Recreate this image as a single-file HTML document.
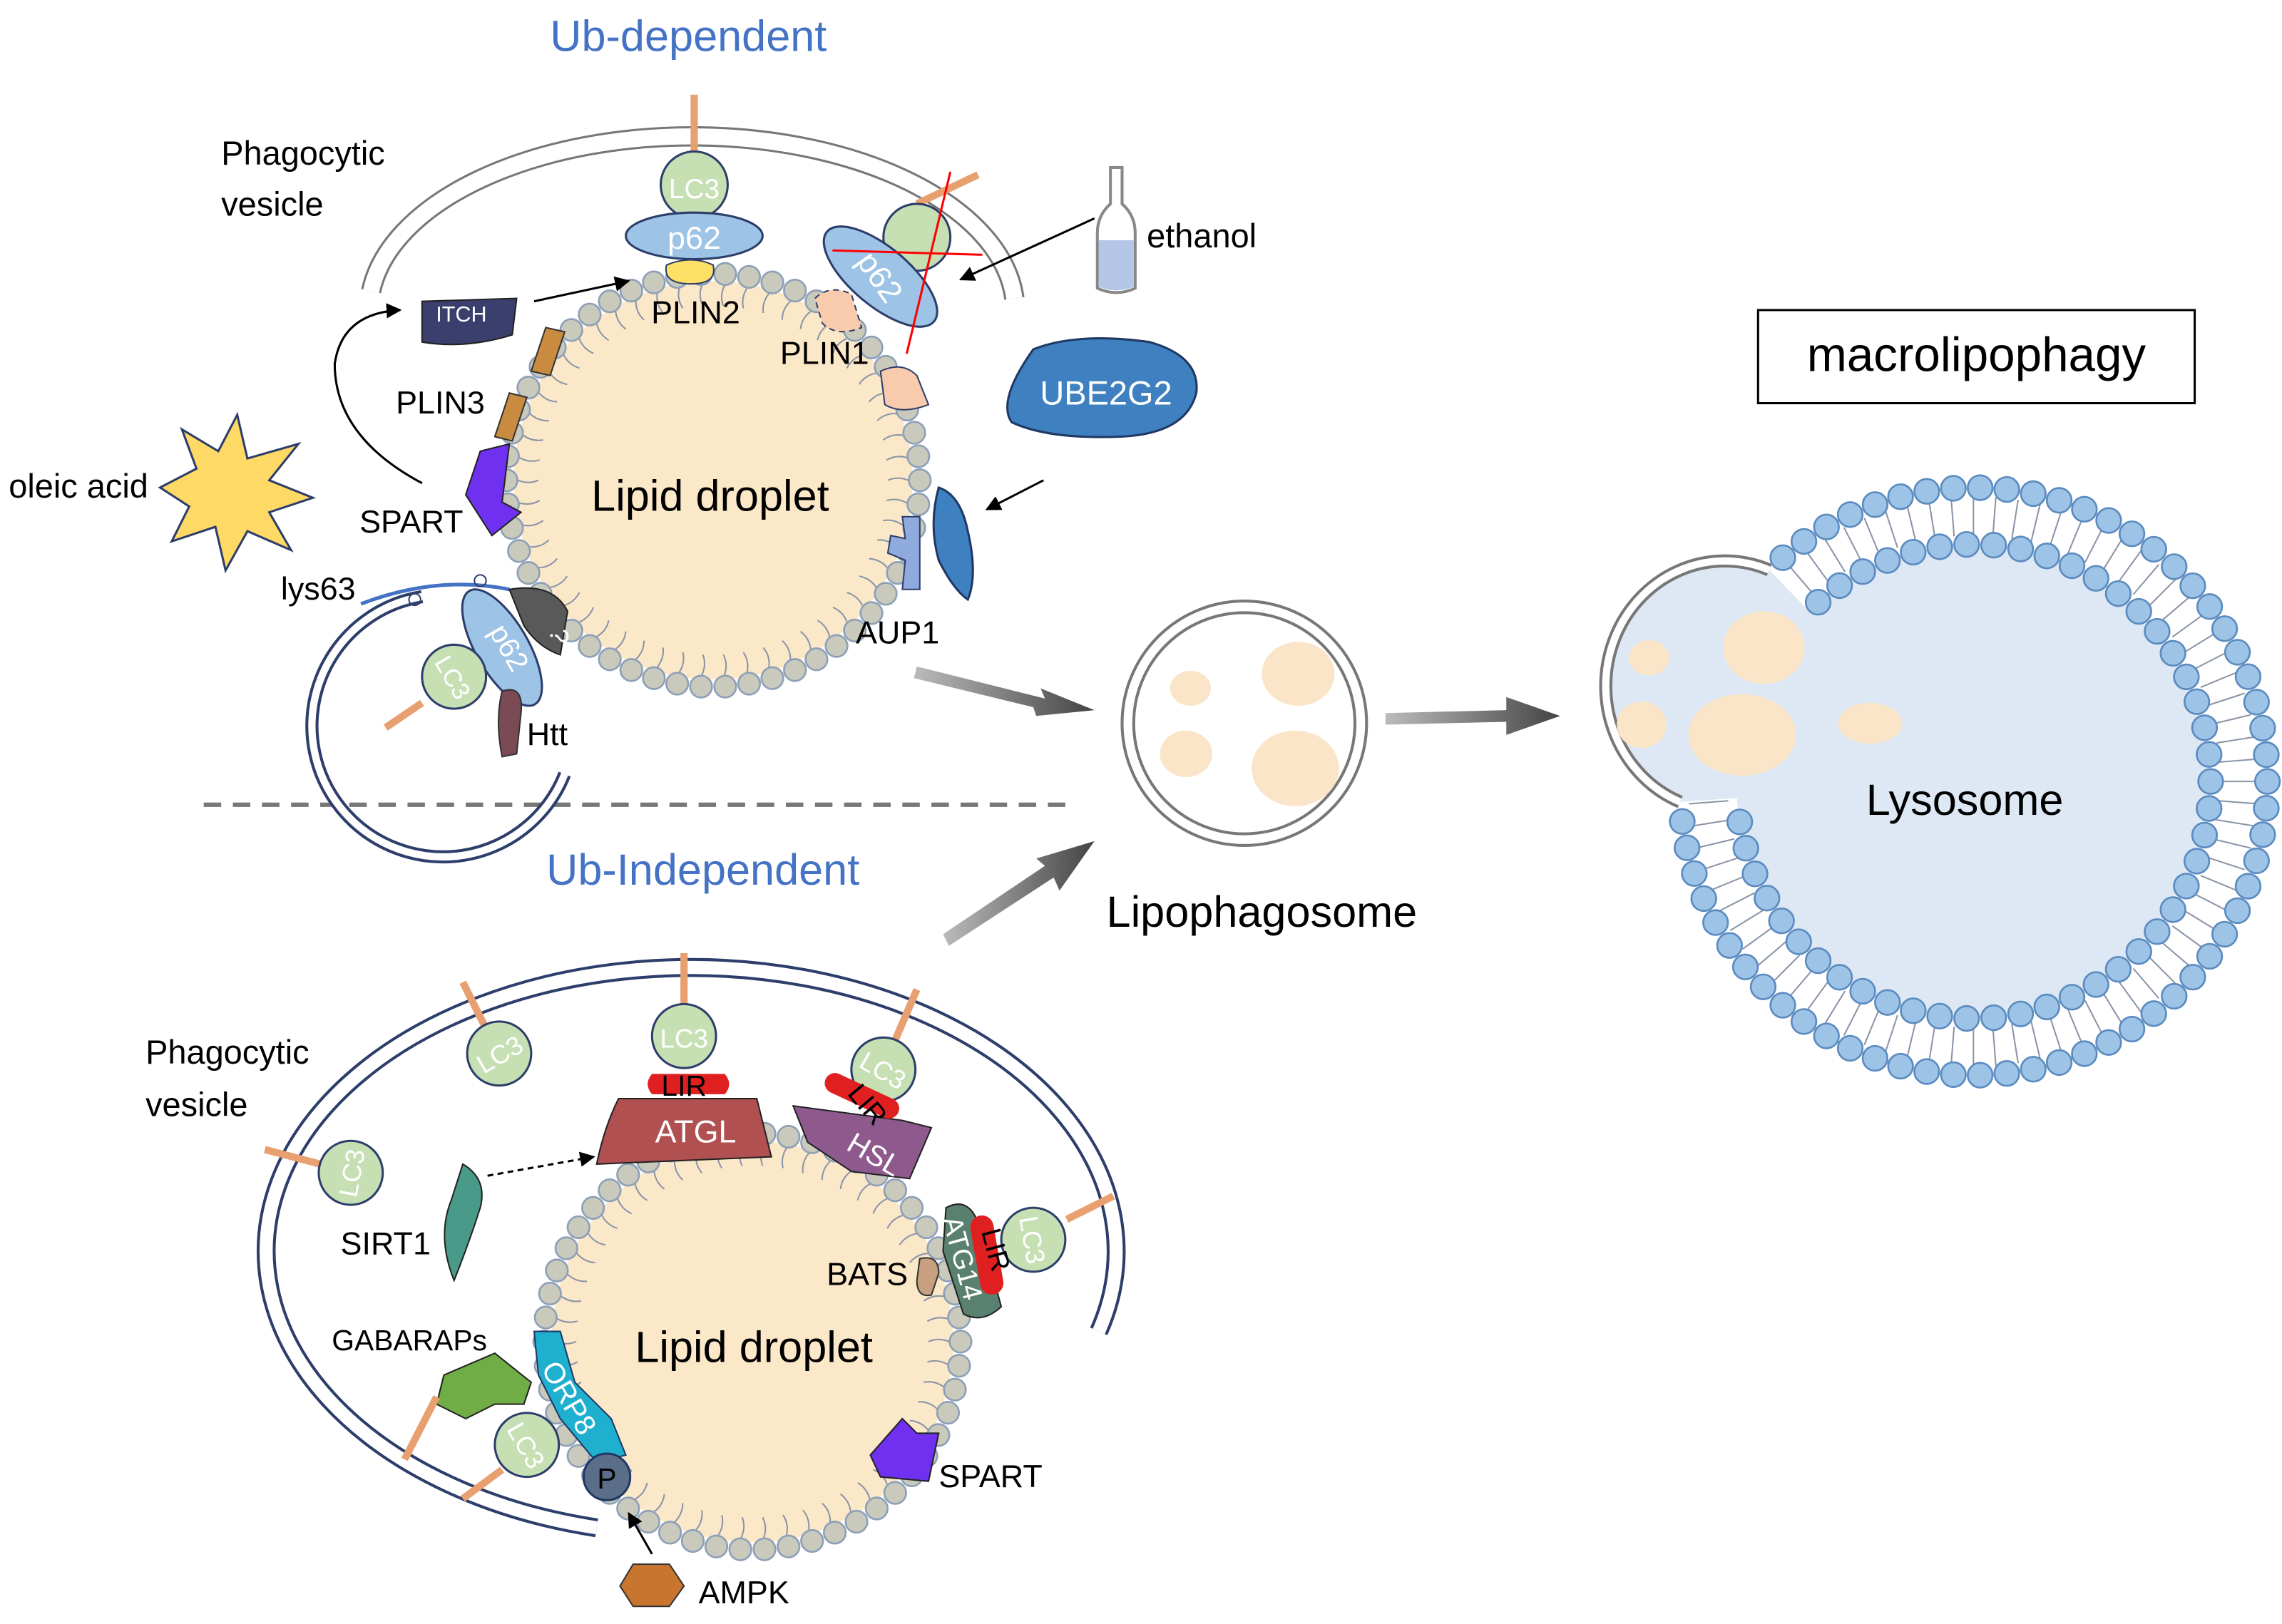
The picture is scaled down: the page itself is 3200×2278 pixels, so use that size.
<!DOCTYPE html>
<html><head><meta charset="utf-8"><style>
html,body{margin:0;padding:0;background:#fff}
svg{display:block}
text{font-family:"Liberation Sans",sans-serif}
</style></head><body>
<svg id="s" width="3200" height="2278" viewBox="0 0 1568 1116" xmlns="http://www.w3.org/2000/svg">
<defs>
<marker id="ah" viewBox="0 0 10 10" refX="9" refY="5" markerWidth="7" markerHeight="7" orient="auto"><path d="M0,0L10,5L0,10z" fill="#000"/></marker>
<linearGradient id="ga" x1="0" y1="0" x2="1" y2="0"><stop offset="0" stop-color="#bbb"/><stop offset="1" stop-color="#444"/></linearGradient>
</defs>
<g id="bg"></g>
<text x="473" y="35" font-size="30" fill="#4472c4" text-anchor="middle">Ub-dependent</text>
<text x="483" y="608" font-size="30" fill="#4472c4" text-anchor="middle">Ub-Independent</text>
<line x1="140" y1="553" x2="740" y2="553" stroke="#777" stroke-width="3" stroke-dasharray="12,8"/>
<path d="M255,200 A222,120 0 0 1 697,205" fill="none" stroke="#777" stroke-width="14"/>
<path d="M255,200 A222,120 0 0 1 697,205" fill="none" stroke="#fff" stroke-width="11"/>
<text x="152" y="113" font-size="23">Phagocytic</text>
<text x="152" y="148" font-size="23">vesicle</text>
<path d="M410,1050 A292,195 0 1 1 755,915" fill="none" stroke="#2d3e6b" stroke-width="13"/>
<path d="M410,1050 A292,195 0 1 1 755,915" fill="none" stroke="#fff" stroke-width="9"/>
<text x="100" y="731" font-size="23">Phagocytic</text>
<text x="100" y="767" font-size="23">vesicle</text>
<path d="M388,532 A90,90 0 1 1 290,410" fill="none" stroke="#2d3e6b" stroke-width="9"/>
<path d="M388,532 A90,90 0 1 1 290,410" fill="none" stroke="#fff" stroke-width="5"/>
<path d="M248,415 Q300,395 350,405" fill="none" stroke="#4472c4" stroke-width="2.5"/>
<g id="fg"></g>
<text x="488" y="351" font-size="30" text-anchor="middle">Lipid droplet</text>
<text x="518" y="936" font-size="30" text-anchor="middle">Lipid droplet</text>
<line x1="477" y1="65" x2="477" y2="110" stroke="#e8a070" stroke-width="5"/>
<circle cx="477" cy="127" r="23" fill="#c6e0b4" stroke="#2d3e6b" stroke-width="1.5"/>
<text x="477" y="136" font-size="19" fill="#fff" text-anchor="middle">LC3</text>
<ellipse cx="477" cy="162" rx="47" ry="16" fill="#9dc3e6" stroke="#2d3e6b" stroke-width="1.5"/>
<text x="477" y="171" font-size="22" fill="#fff" text-anchor="middle">p62</text>
<path d="M458,182 Q475,175 490,182 Q493,195 475,195 Q455,195 458,182z" fill="#ffe066" stroke="#2d3e6b"/>
<text x="478" y="222" font-size="22" text-anchor="middle">PLIN2</text>
<path d="M290,207 L355,205 L352,230 Q320,240 290,235z" fill="#3b3f6e" stroke="#222"/>
<text x="317" y="221" font-size="15" fill="#fff" text-anchor="middle">ITCH</text>
<line x1="367" y1="207" x2="432" y2="193" stroke="#000" stroke-width="1.5" marker-end="url(#ah)"/>
<path d="M365,255 L375,225 L388,228 L378,258z" fill="#c98b40" stroke="#333"/>
<path d="M340,300 L350,270 L362,273 L352,303z" fill="#c98b40" stroke="#333"/>
<text x="272" y="284" font-size="22">PLIN3</text>
<path d="M330,310 L350,305 L345,345 L358,352 L338,368 L320,340z" fill="#7030f0" stroke="#222"/>
<text x="247" y="366" font-size="22">SPART</text>
<path d="M290,332 Q230,300 230,250 Q235,215 275,213" fill="none" stroke="#000" stroke-width="1.5" marker-end="url(#ah)"/>
<polygon points="163,285 170,315 205,305 185,330 215,342 185,352 200,378 170,365 155,392 148,362 118,372 130,348 110,335 135,322 125,295 150,310" fill="#ffd966" stroke="#2d3e6b" stroke-width="1.5"/>
<text x="6" y="342" font-size="23">oleic acid</text>
<line x1="630" y1="140" x2="672" y2="120" stroke="#e8a070" stroke-width="5"/>
<circle cx="630" cy="163" r="23" fill="#c6e0b4" stroke="#2d3e6b" stroke-width="1.5"/>
<ellipse cx="605" cy="190" rx="48" ry="20" transform="rotate(40 605 190)" fill="#9dc3e6" stroke="#2d3e6b" stroke-width="1.5"/>
<text x="605" y="198" font-size="22" fill="#fff" text-anchor="middle" transform="rotate(55 605 190)">p62</text>
<line x1="572" y1="172" x2="675" y2="175" stroke="#f00" stroke-width="1.5"/>
<line x1="653" y1="118" x2="623" y2="243" stroke="#f00" stroke-width="1.5"/>
<path d="M560,205 Q570,195 585,202 L592,225 Q575,232 565,222z" fill="#f8cbad" stroke="#2d3e6b" stroke-dasharray="4,3"/>
<text x="536" y="250" font-size="22">PLIN1</text>
<path d="M605,255 Q620,248 630,258 L638,278 Q620,285 608,278z" fill="#f8cbad" stroke="#2d3e6b"/>
<line x1="752" y1="150" x2="660" y2="192" stroke="#000" stroke-width="1.5" marker-end="url(#ah)"/>
<path d="M763,115 L771,115 L771,140 Q780,148 780,160 L780,198 Q767,204 754,198 L754,160 Q754,148 763,140z" fill="#fff" stroke="#888" stroke-width="2"/>
<path d="M755,165 L779,165 L779,197 Q767,202 755,197z" fill="#b4c7e7"/>
<text x="788" y="170" font-size="23">ethanol</text>
<path d="M710,240 Q740,228 790,235 Q825,245 822,270 Q815,298 770,300 Q720,302 695,290 Q685,275 710,240z" fill="#3f80c0" stroke="#1f3864" stroke-width="1.5"/>
<text x="760" y="278" font-size="23" fill="#fff" text-anchor="middle">UBE2G2</text>
<line x1="717" y1="330" x2="678" y2="350" stroke="#000" stroke-width="1.5" marker-end="url(#ah)"/>
<path d="M645,335 Q660,340 665,365 Q672,395 665,412 Q655,405 645,385 Q638,360 645,335z" fill="#3f80c0" stroke="#1f3864" stroke-width="1.5"/>
<path d="M620,355 L632,355 L632,405 L620,405 L622,385 L610,380 L612,368 L622,370z" fill="#8faadc" stroke="#2d3e6b"/>
<text x="588" y="442" font-size="22">AUP1</text>
<text x="193" y="412" font-size="22">lys63</text>
<circle cx="285" cy="412" r="4" fill="none" stroke="#2d3e6b"/>
<circle cx="330" cy="399" r="4" fill="none" stroke="#2d3e6b"/>
<path d="M350,405 Q380,400 390,420 L385,450 Q370,445 360,430z" fill="#595959" stroke="#222"/>
<text x="378" y="432" font-size="18" fill="#fff" transform="rotate(90 378 432)">?</text>
<ellipse cx="345" cy="445" rx="45" ry="18" transform="rotate(60 345 445)" fill="#9dc3e6" stroke="#2d3e6b" stroke-width="1.5"/>
<text x="350" y="452" font-size="20" fill="#fff" text-anchor="middle" transform="rotate(60 350 445)">p62</text>
<line x1="290" y1="483" x2="265" y2="500" stroke="#e8a070" stroke-width="5"/>
<circle cx="312" cy="465" r="22" fill="#c6e0b4" stroke="#2d3e6b" stroke-width="1.5"/>
<text x="312" y="472" font-size="17" fill="#fff" text-anchor="middle" transform="rotate(60 312 465)">LC3</text>
<path d="M345,475 Q360,470 358,490 L355,518 L345,520 Q340,495 345,475z" fill="#7a4a55" stroke="#333"/>
<text x="362" y="512" font-size="22">Htt</text>
<line x1="470" y1="655" x2="470" y2="695" stroke="#e8a070" stroke-width="5"/>
<circle cx="470" cy="712" r="22" fill="#c6e0b4" stroke="#2d3e6b" stroke-width="1.5"/>
<text x="470" y="720" font-size="18" fill="#fff" text-anchor="middle">LC3</text>
<line x1="318" y1="675" x2="333" y2="705" stroke="#e8a070" stroke-width="5"/>
<circle cx="343" cy="724" r="22" fill="#c6e0b4" stroke="#2d3e6b" stroke-width="1.5"/>
<text x="343" y="731" font-size="18" fill="#fff" text-anchor="middle" transform="rotate(-30 343 724)">LC3</text>
<line x1="182" y1="790" x2="220" y2="800" stroke="#e8a070" stroke-width="5"/>
<circle cx="241" cy="806" r="22" fill="#c6e0b4" stroke="#2d3e6b" stroke-width="1.5"/>
<text x="241" y="813" font-size="18" fill="#fff" text-anchor="middle" transform="rotate(-80 241 806)">LC3</text>
<line x1="630" y1="680" x2="615" y2="715" stroke="#e8a070" stroke-width="5"/>
<circle cx="607" cy="735" r="22" fill="#c6e0b4" stroke="#2d3e6b" stroke-width="1.5"/>
<text x="607" y="742" font-size="18" fill="#fff" text-anchor="middle" transform="rotate(30 607 735)">LC3</text>
<path d="M448,738 L498,738 Q504,745 498,752 L448,752 Q442,745 448,738z" fill="#e02020"/>
<text x="470" y="753" font-size="20" text-anchor="middle">LIR</text>
<path d="M425,755 L520,755 L530,795 L410,800 Q415,775 425,755z" fill="#b05050" stroke="#222"/>
<text x="478" y="785" font-size="22" fill="#fff" text-anchor="middle">ATGL</text>
<path d="M545,760 L620,770 L640,775 L625,810 L585,805 L555,785z" fill="#8e5a8e" stroke="#222"/>
<rect x="565" y="745" width="55" height="14" rx="7" fill="#e02020" transform="rotate(25 590 752)"/>
<text x="595" y="765" font-size="19" text-anchor="middle" transform="rotate(50 595 760)">LIR</text>
<text x="600" y="800" font-size="20" fill="#fff" text-anchor="middle" transform="rotate(30 600 795)">HSL</text>
<path d="M318,800 Q335,810 330,830 Q322,855 312,880 Q300,850 310,825z" fill="#4a9a8a" stroke="#222"/>
<text x="234" y="862" font-size="22">SIRT1</text>
<line x1="335" y1="808" x2="408" y2="795" stroke="#000" stroke-width="1.5" stroke-dasharray="4,3" marker-end="url(#ah)"/>
<line x1="765" y1="822" x2="733" y2="838" stroke="#e8a070" stroke-width="5"/>
<circle cx="710" cy="852" r="22" fill="#c6e0b4" stroke="#2d3e6b" stroke-width="1.5"/>
<text x="710" y="859" font-size="18" fill="#fff" text-anchor="middle" transform="rotate(80 710 852)">LC3</text>
<path d="M650,830 Q665,822 672,840 L688,898 Q675,910 662,903 L648,860z" fill="#5a8070" stroke="#222"/>
<rect x="670" y="835" width="16" height="55" rx="8" fill="#e02020" transform="rotate(-10 678 862)"/>
<text x="680" y="862" font-size="19" text-anchor="middle" transform="rotate(75 680 860)">LIR</text>
<text x="660" y="870" font-size="19" fill="#fff" text-anchor="middle" transform="rotate(75 660 865)">ATG14</text>
<path d="M632,865 Q645,862 645,875 L640,890 Q630,892 630,880z" fill="#c8a080" stroke="#333"/>
<text x="568" y="883" font-size="22">BATS</text>
<path d="M305,945 L340,930 L365,950 L360,965 L340,965 L320,975 L300,965z" fill="#70ad47" stroke="#222"/>
<text x="228" y="928" font-size="20">GABARAPs</text>
<path d="M367,915 L385,915 L395,950 L420,975 L430,1000 L410,1005 L385,975 L370,945z" fill="#1fb0d0" stroke="#1f3864"/>
<text x="392" y="968" font-size="20" fill="#fff" text-anchor="middle" transform="rotate(60 392 960)">ORP8</text>
<line x1="300" y1="960" x2="278" y2="1003" stroke="#e8a070" stroke-width="5"/>
<line x1="345" y1="1010" x2="318" y2="1030" stroke="#e8a070" stroke-width="5"/>
<circle cx="362" cy="993" r="22" fill="#c6e0b4" stroke="#2d3e6b" stroke-width="1.5"/>
<text x="362" y="1000" font-size="18" fill="#fff" text-anchor="middle" transform="rotate(60 362 993)">LC3</text>
<circle cx="417" cy="1015" r="16" fill="#5a6e8a" stroke="#1f3864" stroke-width="1.5"/>
<text x="417" y="1023" font-size="20" text-anchor="middle">P</text>
<line x1="448" y1="1068" x2="432" y2="1040" stroke="#000" stroke-width="1.5" marker-end="url(#ah)"/>
<polygon points="435,1075 460,1075 470,1090 460,1104 435,1104 426,1090" fill="#c87530" stroke="#333"/>
<text x="480" y="1102" font-size="22">AMPK</text>
<path d="M598,1000 L620,975 L630,985 L645,985 L638,1018 L605,1015z" fill="#7030f0" stroke="#222"/>
<text x="645" y="1022" font-size="22">SPART</text>
<polygon points="630,458 718,480 715,473 752,488 712,492 710,486 628,466" fill="url(#ga)"/>
<polygon points="648,642 718,595 712,590 752,578 728,612 724,603 652,650" fill="url(#ga)"/>
<polygon points="952,490 1035,488 1035,479 1072,492 1035,505 1035,496 952,498" fill="url(#ga)"/>
<circle cx="855" cy="497" r="84" fill="#fff" stroke="#777" stroke-width="2"/>
<circle cx="855" cy="497" r="76" fill="#fff" stroke="#777" stroke-width="2"/>
<ellipse cx="892" cy="463" rx="25" ry="22" fill="#fbe5c8"/>
<ellipse cx="818" cy="473" rx="14" ry="12" fill="#fbe5c8"/>
<ellipse cx="815" cy="518" rx="18" ry="16" fill="#fbe5c8"/>
<ellipse cx="890" cy="528" rx="30" ry="26" fill="#fbe5c8"/>
<text x="867" y="637" font-size="30" text-anchor="middle">Lipophagosome</text>
<g id="lyso"></g>
<text x="1350" y="560" font-size="30" text-anchor="middle">Lysosome</text>
<rect x="1208" y="213" width="300" height="64" fill="#fff" stroke="#000" stroke-width="1.5"/>
<text x="1358" y="255" font-size="33" text-anchor="middle">macrolipophagy</text>
</svg>
<script>
var NS="http://www.w3.org/2000/svg";
function el(p,t,a){var e=document.createElementNS(NS,t);for(var k in a)e.setAttribute(k,a[k]);p.appendChild(e);return e;}
var bg=document.getElementById("bg");
function droplet(cx,cy,r,n){
 el(bg,"circle",{cx:cx,cy:cy,r:r-5,fill:"#fbe8c8"});
 for(var i=0;i<n;i++){var a=i/n*2*Math.PI,c=Math.cos(a),s=Math.sin(a);
  var x1=cx+c*(r-8),y1=cy+s*(r-8),x2=cx+c*(r-22),y2=cy+s*(r-22);
  var mx=(x1+x2)/2+s*3,my=(y1+y2)/2-c*3;
  el(bg,"path",{d:"M"+x1.toFixed(1)+","+y1.toFixed(1)+" Q"+mx.toFixed(1)+","+my.toFixed(1)+" "+x2.toFixed(1)+","+y2.toFixed(1),stroke:"#8a94a8","stroke-width":1,fill:"none"});
  el(bg,"circle",{cx:(cx+c*r).toFixed(1),cy:(cy+s*r).toFixed(1),r:7.5,fill:"#c9cabc",stroke:"#8ea0b8","stroke-width":1.3});
 }
}
droplet(490,330,142,54);
droplet(517,922,143,54);
var ly=document.getElementById("lyso");
var lcx=1356,lcy=537,RO=202,RI=163,A1=176,A2=226;
function skip(deg){return deg>A1&&deg<A2;}
function pt(r,deg){var a=deg*Math.PI/180;return [lcx+r*Math.cos(a),lcy+r*Math.sin(a)];}
el(ly,"circle",{cx:lcx,cy:lcy,r:RI,fill:"#dde8f4"});
var o1=pt(RO,A1),o2=pt(RO,A2),i1=pt(RI,A1),i2=pt(RI,A2);
el(ly,"polygon",{points:[o2,i2,i1,o1].map(function(p){return p[0].toFixed(1)+","+p[1].toFixed(1)}).join(" "),fill:"#dde8f4"});
for(var i=0;i<80;i++){var a=i/80*2*Math.PI,deg=a*180/Math.PI;if(skip(deg))continue;
 var c=Math.cos(a),s=Math.sin(a);
 el(ly,"line",{x1:(lcx+c*(RO-6)).toFixed(1),y1:(lcy+s*(RO-6)).toFixed(1),x2:(lcx+c*(RI+6)).toFixed(1),y2:(lcy+s*(RI+6)).toFixed(1),stroke:"#8a94a8","stroke-width":1});}
var vd="M"+o2[0].toFixed(1)+","+o2[1].toFixed(1)+" A78,82 0 1 0 "+o1[0].toFixed(1)+","+o1[1].toFixed(1);
el(ly,"path",{d:vd+" Z",fill:"#dde8f4",stroke:"none"});
el(ly,"path",{d:vd,fill:"none",stroke:"#777","stroke-width":9});
el(ly,"path",{d:vd,fill:"none",stroke:"#fff","stroke-width":5});
el(ly,"ellipse",{cx:1212,cy:445,rx:28,ry:25,fill:"#fbe5c8"});
el(ly,"ellipse",{cx:1133,cy:452,rx:14,ry:12,fill:"#fbe5c8"});
el(ly,"ellipse",{cx:1128,cy:498,rx:17,ry:16,fill:"#fbe5c8"});
el(ly,"ellipse",{cx:1197,cy:505,rx:37,ry:28,fill:"#fbe5c8"});
el(ly,"ellipse",{cx:1285,cy:497,rx:22,ry:14,fill:"#fbe5c8"});
function ring(rad,rb){var n=Math.round(2*Math.PI*rad/18.5);
 for(var i=0;i<n;i++){var a=i/n*2*Math.PI;var deg=a*180/Math.PI;
  if(skip(deg))continue;
  el(ly,"circle",{cx:(lcx+Math.cos(a)*rad).toFixed(1),cy:(lcy+Math.sin(a)*rad).toFixed(1),r:rb,fill:"#9dc3e6",stroke:"#5b8bc0","stroke-width":1.3});}
}
ring(RO,8.5);ring(RI,8.5);
</script>
</body></html>
